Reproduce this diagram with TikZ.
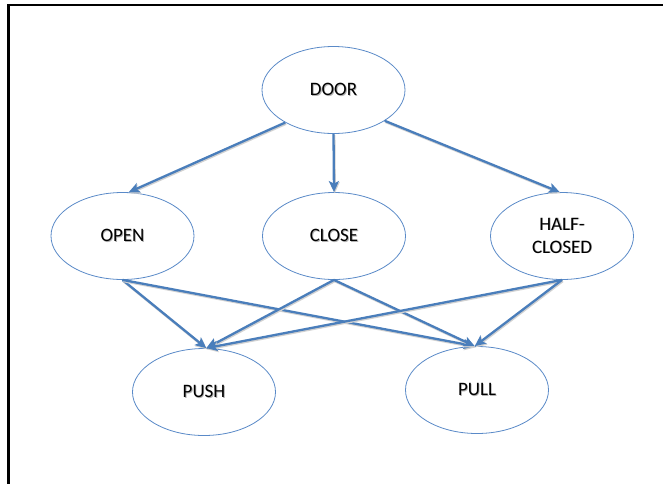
\documentclass[tikz,border=0pt]{standalone}
\usepackage{fontspec}
\setmainfont{Carlito}
\usetikzlibrary{shapes.geometric,arrows.meta}
\definecolor{linkblue}{HTML}{4A7EBB}
\definecolor{rimblue}{HTML}{5A8AC8}
% label text with a soft drop shadow
\newcommand\shlabel[1]{\leavevmode\rlap{\kern0.9pt\raisebox{-0.9pt}{\textcolor{black!30}{#1}}}#1}
\tikzset{
  state/.style={ellipse, draw=rimblue, line width=0.8pt, fill=white,
    minimum width=143pt, minimum height=87pt, inner sep=0pt,
    font=\fontsize{19}{23}\selectfont, align=center, text=black},
  link/.style={draw=linkblue, line width=2.3pt,
    -{Stealth[length=11pt,width=10pt,inset=2.5pt]},
    preaction={draw=black!18, line width=2.3pt,
      transform canvas={shift={(0.8pt,-1.2pt)}}}}
}
\begin{document}
\begin{tikzpicture}[x=1pt,y=-1pt]
  \useasboundingbox (0,0) rectangle (663,483);
  % frame edges
  \draw[line width=2.2pt, line cap=rect] (8.5,483) -- (8.5,5) -- (663,5);

  % states
  \node[state] (door)  at (333.5,90)  {\shlabel{DOOR}};
  \node[state] (open)  at (122.5,236) {\shlabel{OPEN}};
  \node[state] (close) at (334,236)   {\shlabel{CLOSE}};
  \node[state] (half)  at (562,236)   {\shlabel{HALF-}\\\shlabel{CLOSED}};
  \node[state] (push)  at (204,392)   {\shlabel{PUSH}};
  \node[state] (pull)  at (477,390)   {\shlabel{PULL}};

  % transitions from the door
  \draw[link] (door.214) -- (open.82);
  \draw[link] (door.south) -- (close.north);
  \draw[link] (door.329) -- (half.93);

  % transitions to push / pull
  \draw[link] (open.south)  -- (push.87);
  \draw[link] (open.south)  -- (pull.93);
  \draw[link] (close.south) -- (push.87);
  \draw[link] (close.south) -- (pull.93);
  \draw[link] (half.south)  -- (push.87);
  \draw[link] (half.south)  -- (pull.93);
\end{tikzpicture}
\end{document}
